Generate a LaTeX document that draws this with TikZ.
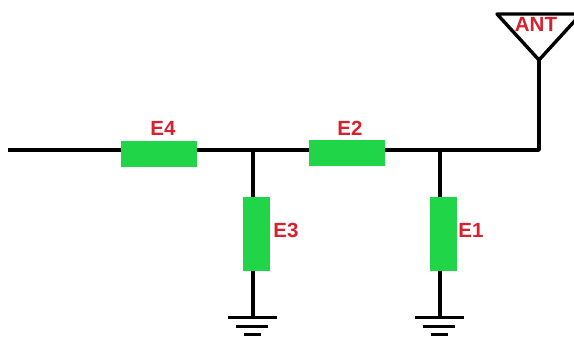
\documentclass[tikz,border=0pt]{standalone}
\usepackage{fontspec}
\setmainfont{Liberation Sans}
\definecolor{partgreen}{HTML}{20D648}
\definecolor{labelred}{HTML}{D8202E}
\tikzset{
  wire/.style={draw=black,line width=3.4pt,line join=round},
  gnd/.style={draw=black,line width=3pt},
  hpart/.style={fill=partgreen,draw=none,minimum width=76pt,minimum height=26pt,inner sep=0pt},
  vpart/.style={fill=partgreen,draw=none,minimum width=27pt,minimum height=74pt,inner sep=0pt},
  lab/.style={text=labelred,font=\fontsize{20.5}{20.5}\selectfont\bfseries,inner sep=0pt}
}
\begin{document}
\begin{tikzpicture}[x=1pt,y=-1pt]
\useasboundingbox (0,0) rectangle (574,338);
\clip (0,0) rectangle (574,338);
\fill[white] (0,0) rectangle (574,338);
% free ends and junctions
\coordinate (start) at (8,150);
\coordinate (j1) at (253,150);
\coordinate (j2) at (440,150);
\coordinate (corner) at (539,150);
\coordinate (apex) at (539,60);
\coordinate (tl) at (497,14);
\coordinate (tr) at (581,14);
\coordinate (g1) at (253,317);
\coordinate (g2) at (440,317);
% wires
\draw[wire] (start) -- (corner) -- (apex);
\draw[wire] (j1) -- (g1);
\draw[wire] (j2) -- (g2);
% antenna
\draw[wire] (tl) -- (tr) -- (apex) -- cycle;
% parts
\node[hpart] (E4) at (159,154) {};
\node[hpart] (E2) at (346.5,153) {};
\node[vpart] (E3) at (256.5,234) {};
\node[vpart] (E1) at (443.5,234) {};
% grounds
\draw[gnd] (228,317) -- (277,317);
\draw[gnd] (236,326) -- (268,326);
\draw[gnd] (244,334) -- (261,334);
\draw[gnd] (415,317) -- (464,317);
\draw[gnd] (423,326) -- (455,326);
\draw[gnd] (431,334) -- (448,334);
% labels
\node[lab] (L4) at (163,128.5) {E4};
\node[lab] (L2) at (350,128.5) {E2};
\node[lab] (L3) at (286,230) {E3};
\node[lab] (L1) at (471,230) {E1};
\node[lab] (LA) at (536,24) {ANT};
\end{tikzpicture}
\end{document}
